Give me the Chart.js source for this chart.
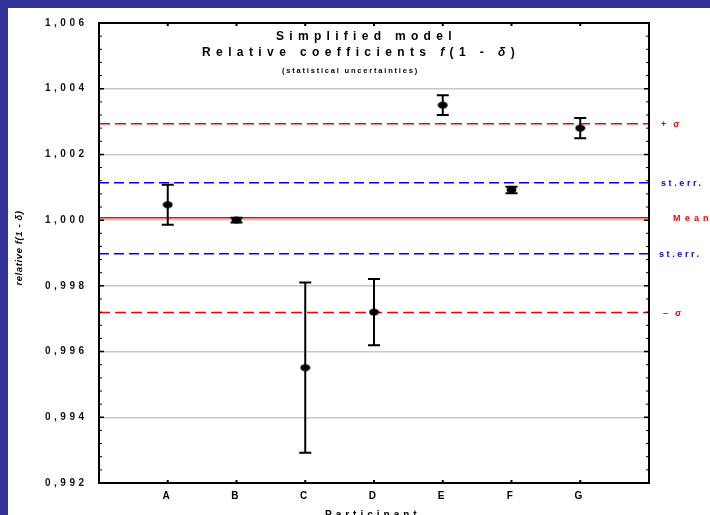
<!DOCTYPE html>
<html>
<head>
<meta charset="utf-8">
<script src="https://cdn.jsdelivr.net/npm/chart.js@4/dist/chart.umd.min.js"></script>
<style>
  html, body { margin: 0; padding: 0; background: #ffffff; }
  canvas { display: block; }
</style>
</head>
<body>
<canvas id="chart" width="710" height="515"></canvas>
<script>
// Participants and their relative coefficients f(1 - δ) with statistical uncertainties
const categories = ['A', 'B', 'C', 'D', 'E', 'F', 'G'];
const coefficients = [1.00047, 1.00000, 0.99551, 0.99720, 1.00350, 1.00092, 1.00280];
const uncertainties = [0.00061, 0.00007, 0.00259, 0.00101, 0.00030, 0.00010, 0.00031];

// Reference levels: +σ, upper st.err., mean, lower st.err., −σ
const refNames = ['+ σ', 'st.err.', 'Mean', 'st.err.', '– σ'];
const refValues = [1.00293, 1.00114, 1.00007, 0.99898, 0.99719];

// Value axis range and tick step
const yRange = [0.992, 1.006];
const yStep = 0.002;

const FONT = '"Liberation Sans", Arial, Helvetica, sans-serif';
const RED = '#ff0000';
const BLUE = '#0000ff';
const NAVY = '#333399';

const refColors = [RED, BLUE, RED, BLUE, RED];
const refDashes = [[11, 5], [10, 5], [], [10, 5], [11, 5]];
const refLabelOffsets = [12, 12, 24, 10, 14];

// Filled elliptical marker for the participant values
const marker = document.createElement('canvas');
marker.width = 11;
marker.height = 8;
(function () {
  const m = marker.getContext('2d');
  m.fillStyle = '#000000';
  m.beginPath();
  m.ellipse(5.5, 4, 5, 3.4, 0, 0, Math.PI * 2);
  m.fill();
})();

function drawSpaced(ctx, text, x, y, font, spacing, color, align) {
  ctx.font = font;
  ctx.letterSpacing = spacing + 'px';
  ctx.fillStyle = color;
  ctx.textAlign = align || 'left';
  ctx.fillText(text, x, y);
}

const decorPlugin = {
  id: 'decor',
  beforeDraw(chart) {
    const ctx = chart.ctx;
    const w = chart.width, h = chart.height;
    ctx.save();
    ctx.fillStyle = NAVY;
    ctx.fillRect(0, 0, w, h);
    ctx.fillStyle = '#ffffff';
    ctx.fillRect(8, 8, w - 8, h - 8);
    ctx.restore();
    // spaced lettering for the axis tick labels
    ctx.letterSpacing = '3.5px';
  },
  beforeDatasetsDraw(chart) {
    chart.ctx.letterSpacing = '0px';
  },
  afterDatasetsDraw(chart) {
    // error bars with caps
    const ctx = chart.ctx;
    const xs = chart.scales.x, ys = chart.scales.y;
    ctx.save();
    ctx.strokeStyle = '#000000';
    ctx.lineWidth = 2;
    coefficients.forEach((v, i) => {
      const x = xs.getPixelForValue(i + 1);
      const yt = ys.getPixelForValue(v + uncertainties[i]);
      const yb = ys.getPixelForValue(v - uncertainties[i]);
      ctx.beginPath();
      ctx.moveTo(x, yt); ctx.lineTo(x, yb);
      ctx.moveTo(x - 6, yt); ctx.lineTo(x + 6, yt);
      ctx.moveTo(x - 6, yb); ctx.lineTo(x + 6, yb);
      ctx.stroke();
    });
    ctx.restore();
  },
  afterDraw(chart) {
    const ctx = chart.ctx;
    const a = chart.chartArea;
    const xs = chart.scales.x, ys = chart.scales.y;
    ctx.save();

    // plot frame
    ctx.strokeStyle = '#000000';
    ctx.lineWidth = 2;
    ctx.strokeRect(a.left, a.top, a.right - a.left, a.bottom - a.top);

    // inner tick marks on the value axes (major + 4 minor per step)
    const minorStep = yStep / 5;
    const n = Math.round((yRange[1] - yRange[0]) / minorStep);
    for (let k = 0; k <= n; k++) {
      const y = ys.getPixelForValue(yRange[0] + k * minorStep);
      const major = k % 5 === 0;
      const len = major ? 5 : 3;
      ctx.lineWidth = major ? 1.5 : 1;
      ctx.beginPath();
      ctx.moveTo(a.left, y); ctx.lineTo(a.left + len, y);
      ctx.moveTo(a.right, y); ctx.lineTo(a.right - len, y);
      ctx.stroke();
    }
    // inner tick marks at participants, bottom and top
    ctx.lineWidth = 2;
    categories.forEach((c, i) => {
      const x = xs.getPixelForValue(i + 1);
      ctx.beginPath();
      ctx.moveTo(x, a.bottom); ctx.lineTo(x, a.bottom - 3);
      ctx.moveTo(x, a.top); ctx.lineTo(x, a.top + 3);
      ctx.stroke();
    });

    // titles
    ctx.textBaseline = 'middle';
    drawSpaced(ctx, 'Simplified model', 276, 37, 'bold 12px ' + FONT, 5.3, '#000000');
    const parts = [
      ['Relative coefficients ', 'bold 12px ' + FONT],
      ['f', 'italic bold 12px ' + FONT],
      ['(1 - ', 'bold 12px ' + FONT],
      ['δ', 'italic bold 12px ' + FONT],
      [')', 'bold 12px ' + FONT]
    ];
    let px = 202;
    parts.forEach(([t, f]) => {
      drawSpaced(ctx, t, px, 53, f, 5.4, '#000000');
      px += ctx.measureText(t).width;
    });
    drawSpaced(ctx, '(statistical uncertainties)', 282, 71, 'bold 7.5px ' + FONT, 1.8, '#000000');

    // reference level labels
    refNames.forEach((name, i) => {
      const y = ys.getPixelForValue(refValues[i]);
      const spacing = name === 'Mean' ? 4.2 : (name === 'st.err.' ? 2.6 : 2.2);
      drawSpaced(ctx, name, a.right + refLabelOffsets[i], y + 1, 'bold 9px ' + FONT, spacing, refColors[i]);
    });

    // axis titles
    ctx.textBaseline = 'alphabetic';
    drawSpaced(ctx, 'Participant', 325, 518, 'bold 10px ' + FONT, 4, '#000000');
    ctx.save();
    ctx.translate(22, 248);
    ctx.rotate(-Math.PI / 2);
    drawSpaced(ctx, 'relative f(1 - δ)', 0, 0, 'italic bold 9.5px ' + FONT, 0.6, '#000000', 'center');
    ctx.restore();

    ctx.restore();
  }
};

const refDatasets = refValues.map((v, i) => ({
  type: 'line',
  label: refNames[i],
  data: [{ x: 0, y: v }, { x: 8, y: v }],
  borderColor: refColors[i],
  borderWidth: 1.5,
  borderDash: refDashes[i],
  pointRadius: 0,
  fill: false,
  order: 1
}));

const pointDataset = {
  type: 'scatter',
  label: 'f(1 - δ)',
  data: categories.map((c, i) => ({ x: i + 1, y: coefficients[i] })),
  pointStyle: marker,
  pointRadius: 5,
  order: 0
};

new Chart(document.getElementById('chart'), {
  type: 'scatter',
  data: { datasets: [...refDatasets, pointDataset] },
  options: {
    responsive: false,
    animation: false,
    events: [],
    layout: { padding: { top: 23, right: 61, bottom: 0, left: 0 } },
    plugins: {
      legend: { display: false },
      tooltip: { enabled: false },
      title: { display: false }
    },
    scales: {
      x: {
        type: 'linear',
        min: 0,
        max: 8,
        afterBuildTicks: s => { s.ticks = categories.map((c, i) => ({ value: i + 1 })); },
        afterFit: s => { s.height = 32; },
        ticks: {
          callback: v => categories[Math.round(v) - 1] || '',
          autoSkip: false,
          maxRotation: 0,
          padding: 7,
          color: '#000000',
          font: { family: FONT, size: 10, weight: 'bold' }
        },
        grid: { display: false, drawTicks: false },
        border: { display: false }
      },
      y: {
        type: 'linear',
        min: yRange[0],
        max: yRange[1],
        afterFit: s => { s.width = 99; },
        ticks: {
          stepSize: yStep,
          callback: v => Number(v).toFixed(3).replace('.', ','),
          padding: 11.5,
          color: '#111111',
          font: { family: FONT, size: 10, weight: 'bold' }
        },
        grid: { color: '#c8c8c8', lineWidth: 1.5, drawTicks: false },
        border: { display: false }
      }
    }
  },
  plugins: [decorPlugin]
});
</script>
</body>
</html>
